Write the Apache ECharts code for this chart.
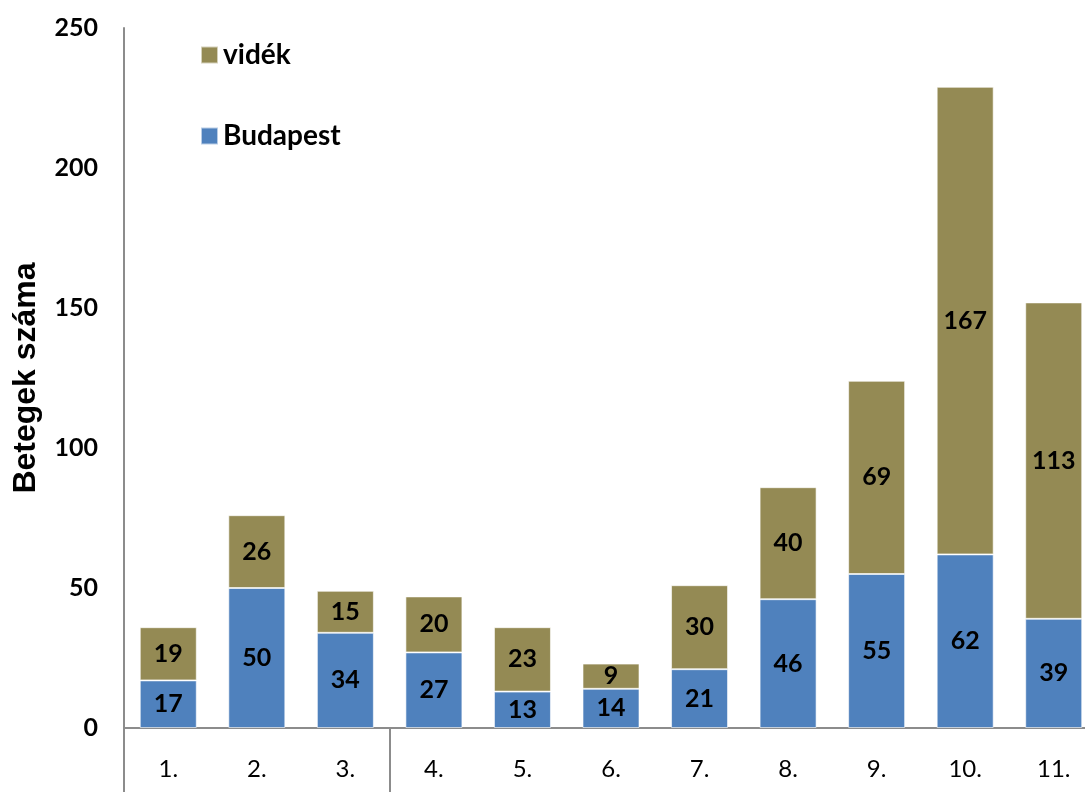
<!DOCTYPE html>
<html>
<head>
<meta charset="utf-8">
<script src="https://cdn.jsdelivr.net/npm/echarts@6/dist/echarts.min.js"></script>
<style>html,body{margin:0;padding:0;background:#fff;overflow:hidden}#c{width:1098px;height:792px}</style>
</head>
<body>
<div id="c"></div>
<script>
var categories = ['1.','2.','3.','4.','5.','6.','7.','8.','9.','10.','11.'];
var budapest = [17,50,34,27,13,14,21,46,55,62,39];
var videk = [19,26,15,20,23,9,30,40,69,167,113];
var yTicks = [0,50,100,150,200,250];

var chart = echarts.init(document.getElementById('c'));
var labelStyle = {show:true, position:'inside', color:'#000', fontWeight:'bold', fontSize:25, fontFamily:'Lato, "Open Sans", sans-serif'};
chart.setOption({
  animation:false,
  backgroundColor:'#fff',
  grid:{left:124, top:28, bottom:64, right:0, containLabel:false},
  legend:{
    data:['vidék','Budapest'], orient:'vertical', left:195, top:36, itemGap:53,
    itemWidth:17, itemHeight:17, icon:'rect',
    textStyle:{fontSize:28, fontWeight:'bold', color:'#000', fontFamily:'Lato, "Open Sans", sans-serif'}
  },
  xAxis:{
    type:'category', data:categories,
    axisLine:{lineStyle:{color:'#8c8c8c', width:2}},
    axisTick:{show:true, length:64, interval:function(i){return i===0||i===3;}, lineStyle:{color:'#8c8c8c', width:2}},
    axisLabel:{color:'#000', fontSize:24, margin:29, fontFamily:'Lato, "Open Sans", sans-serif'}
  },
  yAxis:{
    type:'value', min:yTicks[0], max:yTicks[yTicks.length-1], interval:50,
    name:'Betegek száma', nameLocation:'middle', nameGap:82,
    nameTextStyle:{fontSize:32, fontWeight:'bold', color:'#000', fontFamily:'"Liberation Sans", Arial, sans-serif'},
    axisLine:{show:true, lineStyle:{color:'#8c8c8c', width:2}},
    axisTick:{show:false},
    splitLine:{show:false},
    axisLabel:{color:'#000', fontSize:25, fontWeight:'bold', margin:26, fontFamily:'Lato, "Open Sans", sans-serif'}
  },
  series:[
    {name:'Budapest', type:'bar', stack:'t', data:budapest, barWidth:57,
     itemStyle:{color:'#4F81BD', borderColor:'rgba(255,255,255,0.6)', borderWidth:1}, label:labelStyle},
    {name:'vidék', type:'bar', stack:'t', data:videk, barWidth:57,
     itemStyle:{color:'#948A54', borderColor:'rgba(255,255,255,0.6)', borderWidth:1}, label:labelStyle}
  ]
});
</script>
</body>
</html>
